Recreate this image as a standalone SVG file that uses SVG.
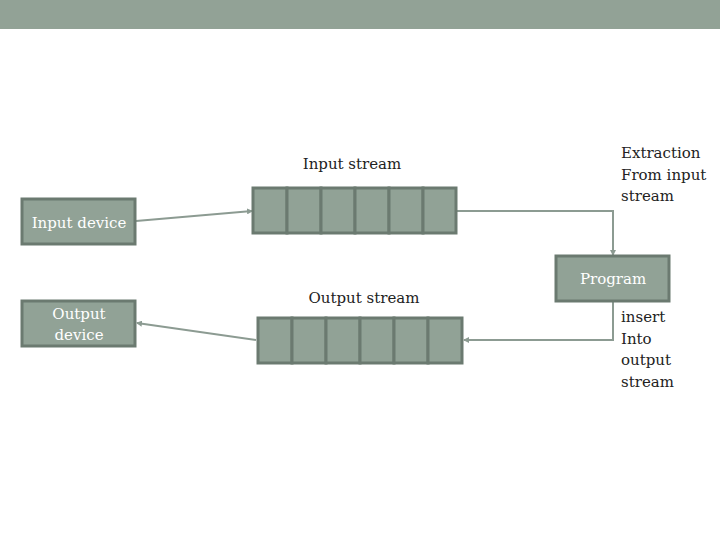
<svg xmlns="http://www.w3.org/2000/svg" width="720" height="540" viewBox="0 0 720 540">
<style>
.box{fill:#91a296;stroke:#6b7a70;stroke-width:3}
.cell{fill:#91a296;stroke:#6b7a70;stroke-width:3}
.wt{font-family:"DejaVu Serif",serif;font-size:15px;fill:#ffffff;text-anchor:middle}
.bt{font-family:"DejaVu Serif",serif;font-size:15px;fill:#222222}
.c{fill:none;stroke:#8c9b92;stroke-width:2}
</style>
<defs>
<marker id="ah" markerWidth="6" markerHeight="6" refX="5" refY="3" orient="auto" markerUnits="userSpaceOnUse">
<path d="M0,0 L6,3 L0,6 z" fill="#8c9b92"/>
</marker>
</defs>
<rect x="0" y="0" width="720" height="29" fill="#92a296"/>
<g id="connectors">
<path class="c" d="M136,221 L252,211" marker-end="url(#ah)"/>
<path class="c" d="M457,211 L613,211 L613,255" marker-end="url(#ah)"/>
<path class="c" d="M613,302 L613,340 L464,340" marker-end="url(#ah)"/>
<path class="c" d="M256,340 L137,323" marker-end="url(#ah)"/>
</g>
<g id="input-device">
<rect class="box" x="22" y="199" width="113" height="45"/>
<text class="wt" x="79" y="228">Input device</text>
</g>
<g id="output-device">
<rect class="box" x="22" y="301" width="113" height="45"/>
<text class="wt" x="79" y="319">Output</text>
<text class="wt" x="79" y="340">device</text>
</g>
<g id="input-stream">
<rect class="cell" x="253" y="188" width="34" height="45"/>
<rect class="cell" x="287" y="188" width="34" height="45"/>
<rect class="cell" x="321" y="188" width="34" height="45"/>
<rect class="cell" x="355" y="188" width="34" height="45"/>
<rect class="cell" x="389" y="188" width="34" height="45"/>
<rect class="cell" x="423" y="188" width="33" height="45"/>
<text class="bt" x="352" y="169" text-anchor="middle">Input stream</text>
</g>
<g id="output-stream">
<rect class="cell" x="258" y="318" width="34" height="45"/>
<rect class="cell" x="292" y="318" width="34" height="45"/>
<rect class="cell" x="326" y="318" width="34" height="45"/>
<rect class="cell" x="360" y="318" width="34" height="45"/>
<rect class="cell" x="394" y="318" width="34" height="45"/>
<rect class="cell" x="428" y="318" width="34" height="45"/>
<text class="bt" x="364" y="303" text-anchor="middle">Output stream</text>
</g>
<g id="program">
<rect class="box" x="556" y="256" width="113" height="45"/>
<text class="wt" x="613" y="284">Program</text>
</g>
<g id="extraction-label">
<text class="bt" x="621" y="158">Extraction</text>
<text class="bt" x="621" y="180">From input</text>
<text class="bt" x="621" y="201">stream</text>
</g>
<g id="insert-label">
<text class="bt" x="621" y="322">insert</text>
<text class="bt" x="621" y="344">Into</text>
<text class="bt" x="621" y="365">output</text>
<text class="bt" x="621" y="387">stream</text>
</g>
</svg>
